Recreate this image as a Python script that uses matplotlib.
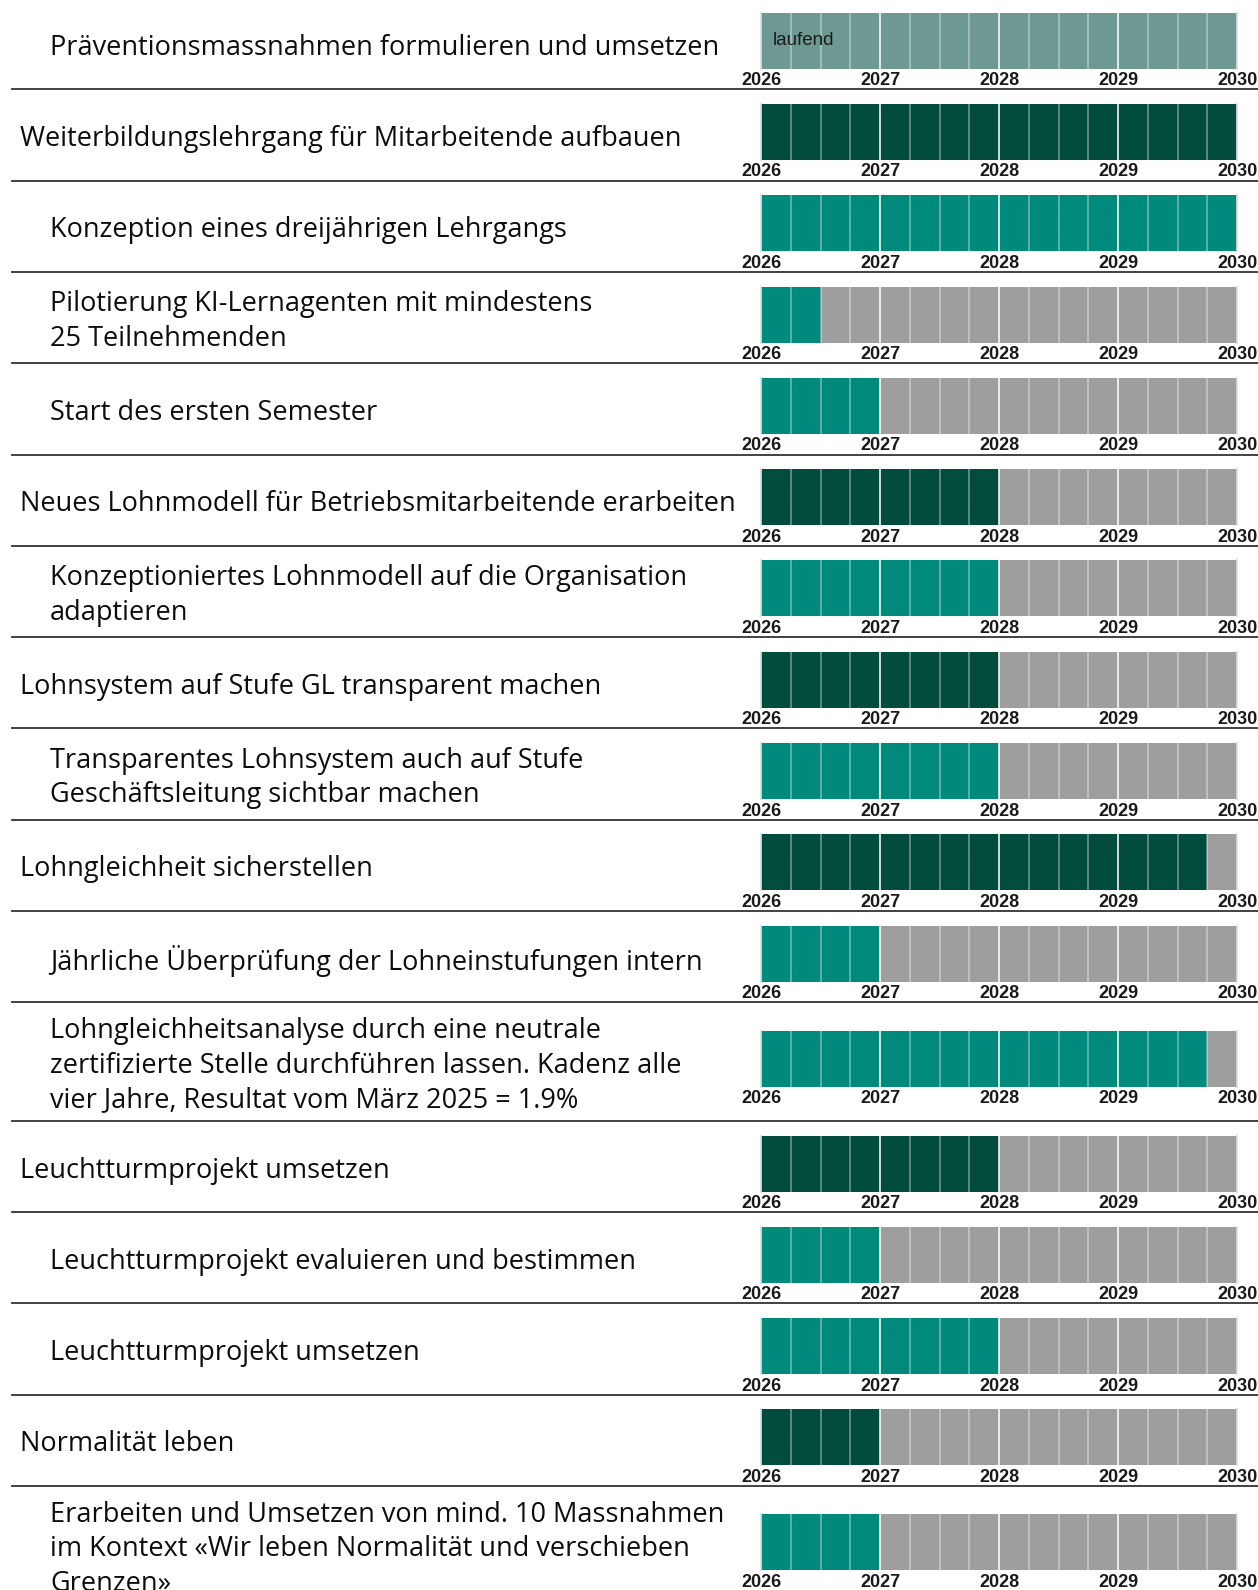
import matplotlib.pyplot as plt
from matplotlib.lines import Line2D

# Zeilen: Beschriftung, Einzug, Art, gefüllte Quartale (von 16)
labels = [
    "Präventionsmassnahmen formulieren und umsetzen",
    "Weiterbildungslehrgang für Mitarbeitende aufbauen",
    "Konzeption eines dreijährigen Lehrgangs",
    "Pilotierung KI-Lernagenten mit mindestens\n25 Teilnehmenden",
    "Start des ersten Semester",
    "Neues Lohnmodell für Betriebsmitarbeitende erarbeiten",
    "Konzeptioniertes Lohnmodell auf die Organisation\nadaptieren",
    "Lohnsystem auf Stufe GL transparent machen",
    "Transparentes Lohnsystem auch auf Stufe\nGeschäftsleitung sichtbar machen",
    "Lohngleichheit sicherstellen",
    "Jährliche Überprüfung der Lohneinstufungen intern",
    "Lohngleichheitsanalyse durch eine neutrale\nzertifizierte Stelle durchführen lassen. Kadenz alle\nvier Jahre, Resultat vom März 2025 = 1.9%",
    "Leuchtturmprojekt umsetzen",
    "Leuchtturmprojekt evaluieren und bestimmen",
    "Leuchtturmprojekt umsetzen",
    "Normalität leben",
    "Erarbeiten und Umsetzen von mind. 10 Massnahmen\nim Kontext «Wir leben Normalität und verschieben\nGrenzen»",
]
kind = ["laufend", "main", "sub", "sub", "sub", "main", "sub", "main", "sub",
        "main", "sub", "sub", "main", "sub", "sub", "main", "sub"]
filled = [16, 16, 16, 2, 4, 8, 8, 8, 8, 15, 4, 15, 8, 4, 8, 4, 4]
years = [2026, 2027, 2028, 2029, 2030]

colors = {"laufend": "#6e9892", "main": "#024c3e", "sub": "#008a7b"}
gray = "#9e9e9e"

W, H = 1258, 1590
fig = plt.figure(figsize=(W / 100, H / 100), dpi=100)

bar_x0, bar_w, bar_h = 761, 476, 56
top = -2.0
for i, lab in enumerate(labels):
    nlines = lab.count("\n") + 1
    rh = 118.6 if nlines >= 3 else 91.3
    cy = top + rh / 2
    bc = cy - 3

    ax = fig.add_axes([bar_x0 / W, 1 - (bc + bar_h / 2) / H, bar_w / W, bar_h / H])
    n = filled[i]
    ax.barh(0, n / 4, left=years[0], height=1, color=colors[kind[i]], linewidth=0)
    if n < 16:
        ax.barh(0, (16 - n) / 4, left=years[0] + n / 4, height=1, color=gray, linewidth=0)
    for q in range(17):
        edge = q in (0, 16)
        ax.axvline(years[0] + q / 4, color="#dddddd" if edge else "white",
                   alpha=0.9 if edge else (0.8 if q % 4 == 0 else 0.35),
                   lw=1.4, clip_on=False)
    ax.set_xlim(years[0], years[-1])
    ax.set_ylim(-0.5, 0.5)
    ax.set_xticks(years)
    ax.set_xticklabels([str(y) for y in years], fontsize=13, fontweight="bold",
                       family="Liberation Sans", color="#1a1a1a")
    ax.tick_params(axis="x", length=0, pad=2.5)
    ax.set_yticks([])
    for s in ax.spines.values():
        s.set_visible(False)
    if kind[i] == "laufend":
        ax.text(years[0] + 0.1, 0, "laufend", va="center", ha="left", fontsize=13.5,
                family="Liberation Sans", color="#1a1a1a")

    x_txt = 20 if kind[i] == "main" else 50
    fig.text(x_txt / W, 1 - (cy + 4) / H, lab, va="center", ha="left", fontsize=19.5,
             family="Open Sans", color="#0d0d0d", linespacing=1.3)

    if i < len(labels) - 1:
        ysep = 1 - (top + rh) / H
        fig.add_artist(Line2D([12 / W, 1], [ysep, ysep], transform=fig.transFigure,
                              color="#333333", lw=1.3))
    top += rh

fig.savefig("out.png", dpi=100)
